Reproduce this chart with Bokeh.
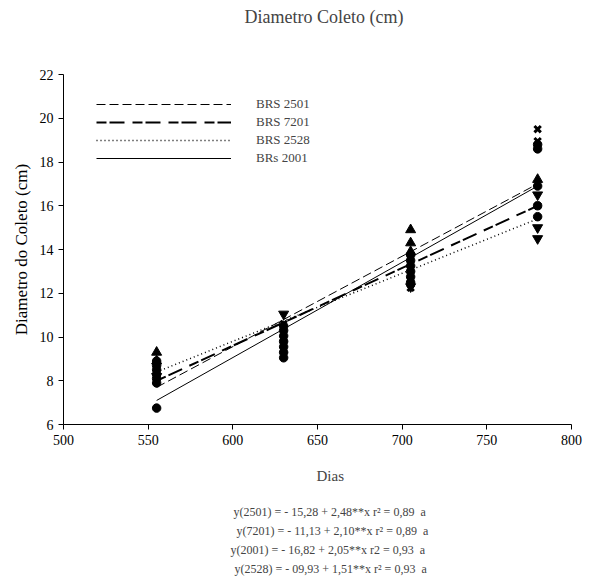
from bokeh.plotting import figure
from bokeh.models import Legend, LegendItem, FixedTicker, ColumnDataSource, Title
from bokeh.embed import file_html
from bokeh.resources import INLINE

# ---- data ----
days = [555, 630, 705, 780]
series_names = ["BRS 2501", "BRS 7201", "BRS 2528", "BRs 2001"]
fit_start = [7.7, 8.0, 8.4, 7.1]
fit_end = [17.0, 16.0, 15.4, 16.9]

circ_x = [555, 555, 555, 555, 555, 555, 555,
          630, 630, 630, 630, 630, 630, 630,
          705, 705, 705, 705, 705, 705,
          780, 780, 780, 780, 780]
circ_y = [6.75, 7.9, 8.1, 8.3, 8.5, 8.7, 8.9,
          9.05, 9.3, 9.55, 9.8, 10.05, 10.3, 10.5,
          12.5, 12.75, 13.0, 13.25, 13.5, 13.75,
          15.5, 16.0, 16.9, 18.6, 18.8]
tri_x = [555, 555, 705, 705, 705, 780]
tri_y = [9.3, 8.9, 14.9, 14.3, 13.9, 17.2]
inv_x = [555, 630, 705, 780, 780, 780]
inv_y = [8.2, 11.05, 12.3, 16.5, 15.0, 14.5]
xm_x = [630, 705, 705, 780, 780, 780]
xm_y = [10.6, 12.25, 12.4, 19.5, 18.95, 16.0]

x_ticks = [500, 550, 600, 650, 700, 750, 800]
y_ticks = [6, 8, 10, 12, 14, 16, 18, 20, 22]

title_text = "Diametro Coleto (cm)"
x_title = "Dias"
y_title = "Diametro do Coleto (cm)"
equations = [
    "y(2501) = - 15,28 + 2,48**x r\u00b2 = 0,89 \u00a0a",
    "y(7201) = - 11,13 + 2,10**x r\u00b2 = 0,89 \u00a0a",
    "y(2001) = - 16,82 + 2,05**x r2 = 0,93 \u00a0a",
    "y(2528) = - 09,93 + 1,51**x r\u00b2 = 0,93 \u00a0a",
]

FONT = "Liberation Serif"

p = figure(width=590, height=581, output_backend="svg", toolbar_location=None,
           x_range=(500, 800), y_range=(6, 22),
           min_border_left=63, min_border_right=19,
           min_border_top=74, min_border_bottom=157)
p.outline_line_color = None
p.xgrid.visible = False
p.ygrid.visible = False

# main title on top, blank spacer between it and the frame
p.title.text = title_text
p.title.text_font = FONT
p.title.text_font_size = "18px"
p.title.text_font_style = "normal"
p.title.align = "left"
p.title.offset = 181
p.title.standoff = 0
p.add_layout(Title(text=" ", text_font=FONT, text_font_size="18px",
                   standoff=26), "above")

for ax in (p.xaxis[0], p.yaxis[0]):
    ax.major_label_text_font = FONT
    ax.major_label_text_font_size = "14px"
    ax.major_label_text_color = "black"
    ax.axis_label_text_font = FONT
    ax.axis_label_text_font_style = "normal"
    ax.axis_label_text_color = "black"
    ax.axis_line_color = "black"
    ax.major_tick_line_color = "black"
    ax.minor_tick_line_color = None
    ax.major_tick_in = 0
    ax.major_tick_out = 5

p.xaxis.ticker = FixedTicker(ticks=x_ticks)
p.yaxis.ticker = FixedTicker(ticks=y_ticks)
p.yaxis.axis_label = y_title
p.yaxis.axis_label_text_font_size = "17px"
p.yaxis.axis_label_standoff = 6

styles = [
    dict(line_dash="9 4", line_width=1),
    dict(line_dash="10 3 15 8", line_width=2),
    dict(line_dash="1 3", line_width=1.5),
    dict(line_dash="solid", line_width=1),
]
items = []
for name, s0, s1, st in zip(series_names, fit_start, fit_end, styles):
    src = ColumnDataSource(dict(x=[days[0], days[-1]], y=[s0, s1]))
    r = p.line("x", "y", source=src, line_color="black", **st)
    items.append(LegendItem(label=name, renderers=[r]))

p.scatter(circ_x, circ_y, marker="circle", size=8.5, color="black")
p.scatter(tri_x, tri_y, marker="triangle", size=10, color="black")
p.scatter(inv_x, inv_y, marker="inverted_triangle", size=10, color="black")
p.scatter(xm_x, xm_y, marker="x", size=9, line_color="black", line_width=3)

legend = Legend(items=items, location=(33, 257), padding=0, margin=0,
                spacing=0, glyph_width=135, glyph_height=18, label_height=18,
                label_standoff=25, label_text_font=FONT,
                label_text_font_size="13px", border_line_color=None,
                background_fill_alpha=0)
p.add_layout(legend)

# x axis title, then the equations, stacked below the axis
p.add_layout(Title(text=x_title, text_font=FONT, text_font_size="15px",
                   text_font_style="normal", align="left", offset=253,
                   standoff=36), "below")
eq_offsets = [170, 173, 167, 171]
for eq, off in zip(equations, eq_offsets):
    p.add_layout(Title(text=eq, text_font=FONT, text_font_size="12px",
                       text_font_style="normal", align="left", offset=off,
                       standoff=3),
                 "below")

open("out.html", "w").write(file_html(p, INLINE))
